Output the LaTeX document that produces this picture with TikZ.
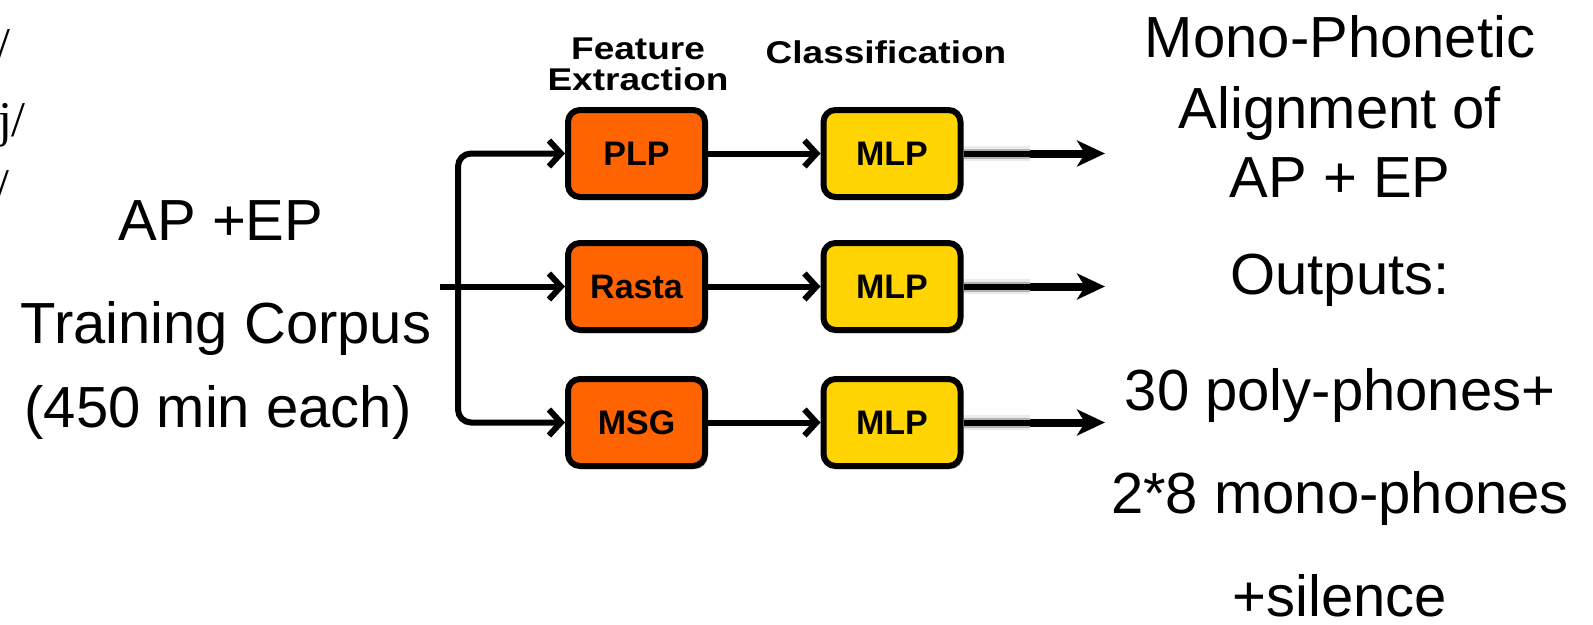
\documentclass[tikz,border=0pt]{standalone}
\usepackage{fontspec}
\setmainfont{Liberation Sans}
\newfontfamily\serifface{Liberation Serif}
\usetikzlibrary{arrows.meta,shadows}
\definecolor{featorange}{HTML}{FF6400}
\definecolor{clsyellow}{HTML}{FFD400}

\begin{document}
\begin{tikzpicture}[x=1pt,y=-1pt,
  big/.style={font=\fontsize{58}{70}\selectfont, inner sep=0pt, anchor=base},
  head/.style={font=\fontsize{37}{31.5}\selectfont\bfseries, inner sep=0pt, anchor=base},
  frag/.style={font=\serifface\fontsize{50}{60}\selectfont, inner sep=0pt, anchor=base east},
  block/.style={draw=black, line width=6pt, rounded corners=12pt,
    minimum width=137pt, minimum height=87pt, inner sep=0pt,
    font=\fontsize{34}{34}\selectfont\bfseries,
    drop shadow={shadow xshift=2.5pt, shadow yshift=-3pt, opacity=0.3, fill=black}},
  feat/.style={block, fill=featorange},
  cls/.style={block, fill=clsyellow},
  conn/.style={line width=6pt, -{Straight Barb[length=12pt, width=26pt]}},
  glowA/.style={line width=15pt, black!8},
  glowB/.style={line width=10pt, black!30},
  core/.style={line width=6pt, black},
  outarrow/.style={line width=8pt, -{Stealth[length=28pt, width=26pt, inset=8pt]}}
]
\useasboundingbox (0,0) rectangle (1593,624);

% cut-off fragments at the left edge
\node[frag] (f1) at (11,62) {/};
\node[frag] (f2) at (26,136) {j/};
\node[frag] (f3) at (10,203) {/};

% corpus description
\node[big] (corp1) at (221,240) {AP +EP};
\node[big] (corp2) at (226,343) {Training Corpus};
\node[big] (corp3) at (218,427) {(450 min each)};

% column headers
\node[head] (hfeat) at (638,90)
  {\scalebox{1}[0.85]{\begin{tabular}[b]{@{}c@{}}Feature\\Extraction\end{tabular}}};
\node[head] (hcls) at (886,63) {\scalebox{1}[0.85]{Classification}};

% feature extraction and classification blocks
\node[feat] (plp)   at (636.5,153.5) {PLP};
\node[feat] (rasta) at (636.5,286.5) {Rasta};
\node[feat] (msg)   at (636.5,422.5) {MSG};
\node[cls] (mlp1) at (892,153.5) {MLP};
\node[cls] (mlp2) at (892,286.5) {MLP};
\node[cls] (mlp3) at (892,422.5) {MLP};

% input split
\coordinate (in) at (440,286.5);
\coordinate (split) at (458,286.5);
\draw[conn, rounded corners=13pt] (split) |- (plp.west);
\draw[conn, rounded corners=13pt] (split) |- (msg.west);
\draw[conn] (in) -- (rasta.west);

% block to block
\draw[conn] (plp.east) -- (mlp1.west);
\draw[conn] (rasta.east) -- (mlp2.west);
\draw[conn] (msg.east) -- (mlp3.west);

% outputs
\coordinate (j1) at (1030,153.5);
\coordinate (j2) at (1030,286.5);
\coordinate (j3) at (1030,422.5);
\coordinate (t1) at (1105,153.5);
\coordinate (t2) at (1105,286.5);
\coordinate (t3) at (1105,422.5);
\foreach \m/\j in {mlp1/j1, mlp2/j2, mlp3/j3} {
  \draw[glowA] (\m.east) -- (\j);
  \draw[glowB] (\m.east) -- (\j);
  \draw[core] (\m.east) -- (\j);
}
\draw[outarrow] (j1) -- (t1);
\draw[outarrow] (j2) -- (t2);
\draw[outarrow] (j3) -- (t3);

% result description
\node[big] (res1) at (1340,57) {Mono-Phonetic};
\node[big] (res2) at (1340,128) {Alignment of};
\node[big] (res3) at (1340,197) {AP + EP};
\node[big] (res4) at (1340,294) {Outputs:};
\node[big] (res5) at (1340,410) {30 poly-phones+};
\node[big] (res6) at (1340,513) {2*8 mono-phones};
\node[big] (res7) at (1340,616) {+silence};
\end{tikzpicture}
\end{document}
